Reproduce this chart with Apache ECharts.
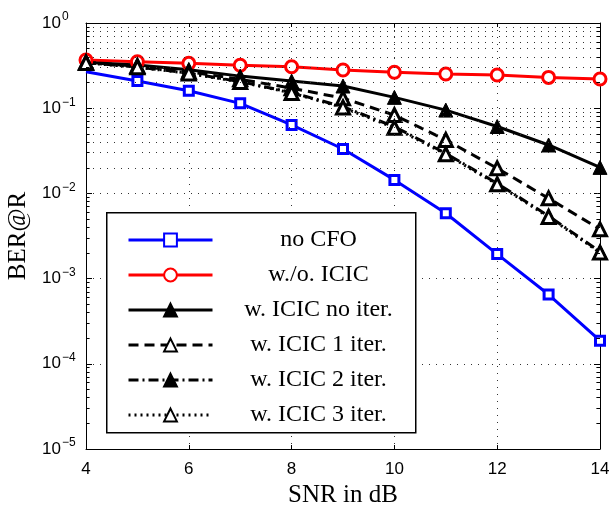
<!DOCTYPE html>
<html>
<head>
<meta charset="utf-8">
<script src="https://cdn.jsdelivr.net/npm/echarts@6/dist/echarts.min.js"></script>
<style>html,body{margin:0;padding:0;background:#fff;}#c{width:611px;height:506px;}</style>
</head>
<body>
<div id="c"></div>
<script>
// ---- data ----
var snr = [4, 5, 6, 7, 8, 9, 10, 11, 12, 13, 14];
var noCFO   = [0.268, 0.209, 0.160, 0.114, 0.0636, 0.0332, 0.0144, 0.00585, 0.00194, 0.00065, 0.000187];
var woICIC  = [0.368, 0.351, 0.336, 0.319, 0.307, 0.281, 0.264, 0.252, 0.245, 0.230, 0.220];
var noIter  = [0.345, 0.322, 0.283, 0.238, 0.208, 0.182, 0.134, 0.095, 0.061, 0.037, 0.0202];
var iter1   = [0.345, 0.312, 0.268, 0.218, 0.172, 0.131, 0.083, 0.0424, 0.0197, 0.00875, 0.00379];
var iter2   = [0.342, 0.305, 0.258, 0.205, 0.153, 0.104, 0.0607, 0.0295, 0.0131, 0.00543, 0.00207];
var iter3   = [0.340, 0.303, 0.256, 0.203, 0.151, 0.102, 0.0590, 0.0288, 0.0128, 0.00530, 0.00202];
var seriesNames = ['no CFO', 'w./o. ICIC', 'w. ICIC no iter.', 'w. ICIC 1 iter.', 'w. ICIC 2 iter.', 'w. ICIC 3 iter.'];
var xTicks = [4, 6, 8, 10, 12, 14];
var decades = [1e-5, 1e-4, 1e-3, 1e-2, 1e-1, 1];
var minorMultipliers = [2, 3, 4, 5, 6, 7, 8, 9];

function pairs(ys) { return snr.map(function (x, i) { return [x, ys[i]]; }); }

var minorVals = [];
decades.slice(0, 5).forEach(function (d) {
  minorMultipliers.forEach(function (m) { minorVals.push(d * m); });
});

var dotStyle = { color: '#333', width: 1, type: [1, 6] };
var gridLines = minorVals.map(function (v) { return { yAxis: v }; });
var tickSegs = [];
minorVals.forEach(function (v) {
  tickSegs.push([{ coord: [4, v] }, { coord: [4.07, v] }]);
  tickSegs.push([{ coord: [13.93, v] }, { coord: [14, v] }]);
});

var chart = echarts.init(document.getElementById('c'), null, { renderer: 'canvas' });

var lineBase = function (name, data, color, type, symbol, size, fill, bw) {
  return {
    name: name, type: 'line', data: data, clip: false,
    lineStyle: { color: color, width: 3, type: type },
    symbol: symbol, symbolSize: size,
    itemStyle: { color: fill, borderColor: color, borderWidth: bw },
    emphasis: { disabled: true }, z: 3
  };
};

// first blue point is drawn without a marker in the reference
var blueData = pairs(noCFO).map(function (p, i) {
  return i === 0 ? { value: p, symbol: 'none' } : p;
});

var blue = lineBase('no CFO', blueData, '#0000ff', 'solid', 'rect', 9, '#ffffff', 3);
var red = lineBase('w./o. ICIC', pairs(woICIC), '#ff0000', 'solid', 'circle', 12, '#ffffff', 3);
var s3 = lineBase('w. ICIC no iter.', pairs(noIter), '#000000', 'solid', 'triangle', 14, '#000000', 1);
var s4 = lineBase('w. ICIC 1 iter.', pairs(iter1), '#000000', [10, 6], 'triangle', 13, '#ffffff', 3);
var s5 = lineBase('w. ICIC 2 iter.', pairs(iter2), '#000000', [10, 4, 2, 4], 'triangle', 14, '#000000', 1);
var s6 = lineBase('w. ICIC 3 iter.', pairs(iter3), '#000000', [2, 4], 'triangle', 13, '#ffffff', 3);

var gridSeries = {
  name: 'grid', type: 'line', data: [], silent: true, z: 1,
  markLine: {
    silent: true, symbol: 'none', label: { show: false }, animation: false,
    lineStyle: dotStyle, emphasis: { disabled: true },
    data: gridLines
  }
};
var tickSeries = {
  name: 'ticks', type: 'line', data: [], silent: true, z: 1,
  markLine: {
    silent: true, symbol: 'none', label: { show: false }, animation: false,
    lineStyle: { color: '#000', width: 1, type: 'solid' }, emphasis: { disabled: true },
    data: tickSegs
  }
};

var yLabelFmt = function (v) {
  var e = Math.round(Math.log10(v));
  var s = e < 0 ? '\u2212' + (-e) : '' + e;
  return '{b|10}{s|' + s + '}';
};

chart.setOption({
  animation: false,
  backgroundColor: '#ffffff',
  grid: { left: 86, right: 11, top: 23, bottom: 57, containLabel: false, outerBoundsMode: 'none' },
  xAxis: [{
    type: 'value', min: 4, max: 14, interval: 2, position: 'bottom',
    name: 'SNR in dB', nameLocation: 'middle', nameGap: 33,
    nameTextStyle: { fontFamily: 'Liberation Serif', fontSize: 25, color: '#000' },
    axisLine: { show: true, lineStyle: { color: '#000', width: 1 } },
    axisTick: { show: true, inside: true, length: 4, lineStyle: { color: '#000' } },
    axisLabel: { margin: 12, color: '#000', fontFamily: 'Liberation Sans', fontSize: 17 },
    splitLine: { show: true, lineStyle: dotStyle }
  }, {
    type: 'value', min: 4, max: 14, interval: 2, position: 'top',
    axisLine: { show: true, lineStyle: { color: '#000', width: 1 } },
    axisTick: { show: true, inside: true, length: 4, lineStyle: { color: '#000' } },
    axisLabel: { show: false }, splitLine: { show: false }
  }],
  yAxis: [{
    type: 'log', logBase: 10, min: 1e-5, max: 1, position: 'left',
    name: 'BER@R', nameLocation: 'middle', nameGap: 55, nameRotate: 90,
    nameTextStyle: { fontFamily: 'Liberation Serif', fontSize: 25, color: '#000' },
    axisLine: { show: true, lineStyle: { color: '#000', width: 1 } },
    axisTick: { show: true, inside: true, length: 6, lineStyle: { color: '#000' } },
    axisLabel: {
      margin: 44, align: 'left', color: '#000', formatter: yLabelFmt,
      rich: {
        b: { fontFamily: 'Liberation Sans', fontSize: 17, color: '#000' },
        s: { fontFamily: 'Liberation Sans', fontSize: 12, color: '#000', padding: [0, 0, 12, 1] }
      }
    },
    splitLine: { show: true, lineStyle: dotStyle }
  }, {
    type: 'log', logBase: 10, min: 1e-5, max: 1, position: 'right',
    axisLine: { show: true, lineStyle: { color: '#000', width: 1 } },
    axisTick: { show: true, inside: true, length: 6, lineStyle: { color: '#000' } },
    axisLabel: { show: false }, splitLine: { show: false }
  }],
  legend: {
    data: seriesNames, orient: 'vertical', left: 122, top: 221, z: 6,
    itemWidth: 84, itemHeight: 16, itemGap: 7, selectedMode: false,
    lineStyle: { width: 3 },
    formatter: function (n) { return '{c|' + n + '}'; },
    textStyle: {
      fontFamily: 'Liberation Serif', fontSize: 24, color: '#000', lineHeight: 28,
      rich: { c: { width: 202, align: 'center', fontFamily: 'Liberation Serif', fontSize: 24, color: '#000', lineHeight: 28 } }
    }
  },
  graphic: [{
    type: 'rect', left: 106, top: 212, z: 5,
    shape: { width: 309, height: 220 },
    style: { fill: '#ffffff', stroke: '#000', lineWidth: 1.5 }
  }],
  series: [gridSeries, tickSeries, blue, red, s3, s4, s5, s6]
});
</script>
</body>
</html>
